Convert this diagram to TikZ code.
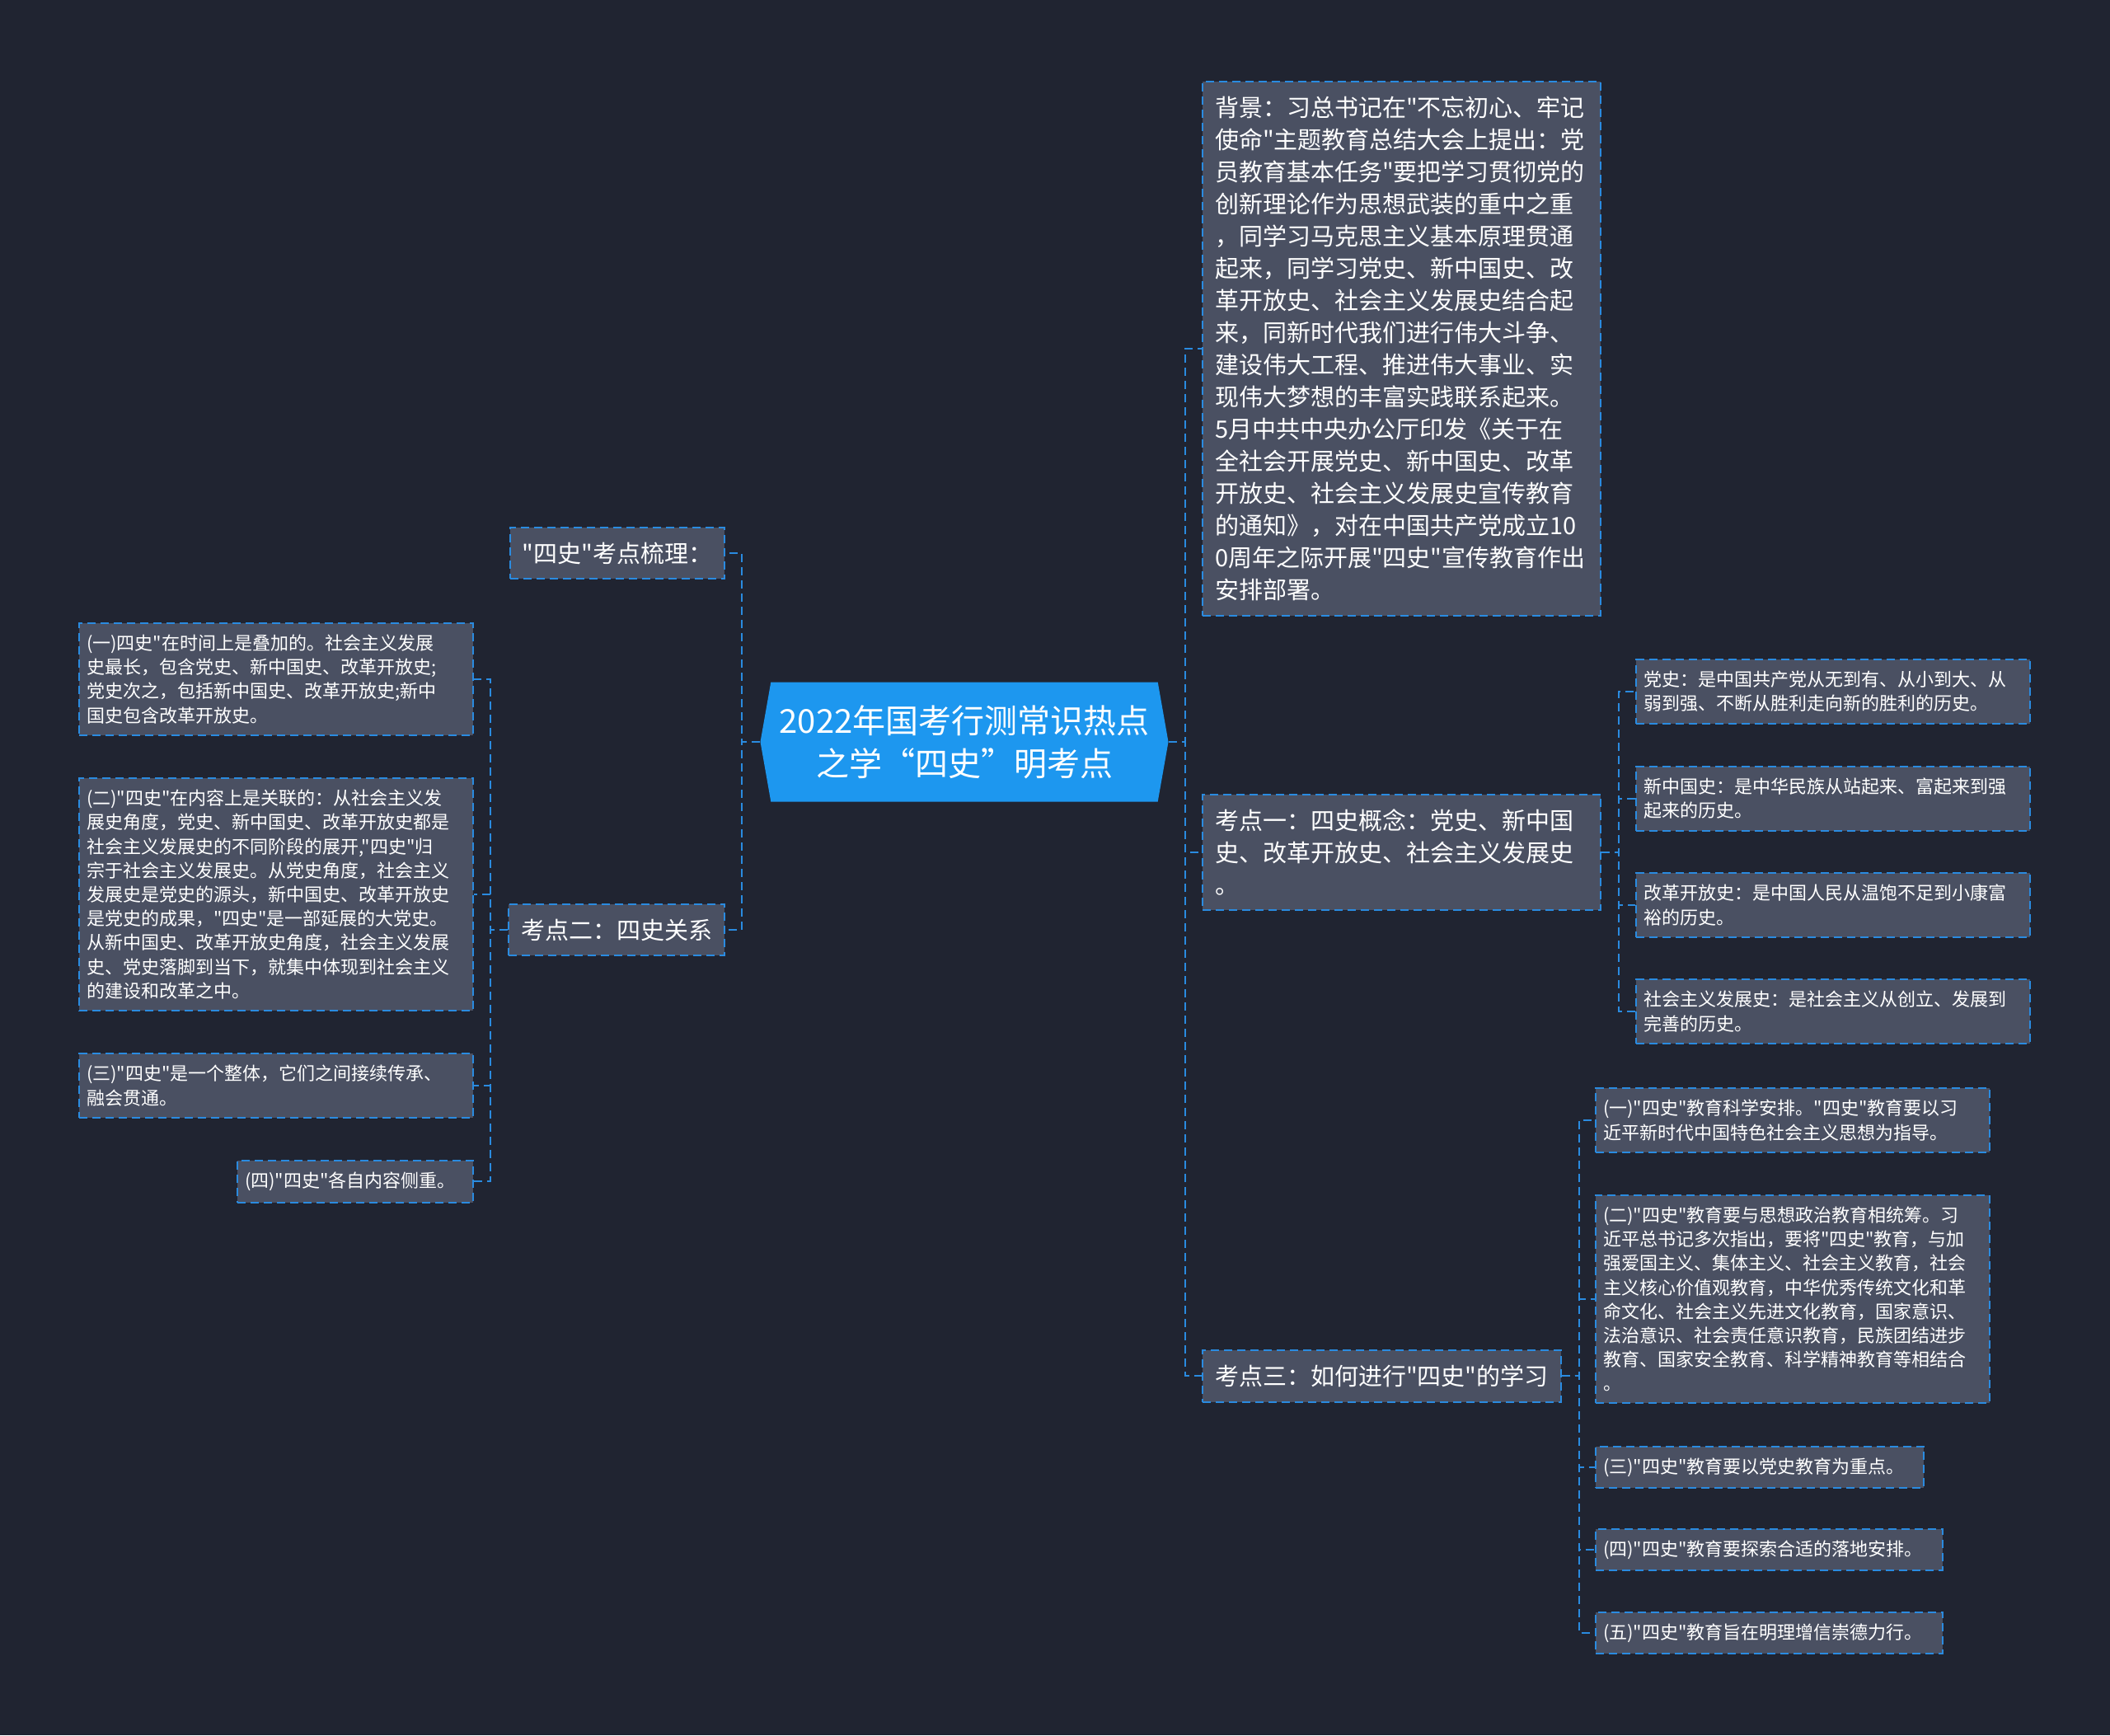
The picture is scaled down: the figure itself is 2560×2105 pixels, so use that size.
\documentclass[tikz,border=0pt]{standalone}
\usepackage{fontspec}
\setmainfont{Noto Sans CJK SC}[Ligatures=TeXOff]
\usetikzlibrary{shapes.symbols}
\definecolor{bgdark}{HTML}{202431}
\definecolor{boxgray}{HTML}{4A5062}
\definecolor{linkblue}{HTML}{2A8BE0}
\definecolor{rootblue}{HTML}{1D97EF}
\newcommand{\rootfont}{\fontsize{20}{26}\selectfont}
\newcommand{\topicfont}{\fontsize{14.5}{19.5}\selectfont}
\newcommand{\leaffont}{\fontsize{11}{14.6}\selectfont}

\begin{document}
\begin{tikzpicture}[x=0.5pt,y=-0.5pt]
  \path[use as bounding box,fill=bgdark] (0,0) rectangle (2560,2105);
  \tikzset{
    rootbox/.style={signal,signal to=east and west,signal pointer angle=160,fill=rootblue,text=white,align=center,font=\rootfont,minimum width=247.5pt,minimum height=72.5pt,inner sep=0pt},
    topic/.style={draw=linkblue,fill=boxgray,line width=1pt,dash pattern=on 5pt off 3pt,text=white,align=left,font=\topicfont,inner xsep=7.5pt,inner ysep=9pt},
    leaf/.style={draw=linkblue,fill=boxgray,line width=1pt,dash pattern=on 5pt off 3pt,text=white,align=left,font=\leaffont,inner xsep=4.5pt,inner ysep=7pt},
    link/.style={draw=linkblue,line width=1pt,dash pattern=on 5pt off 3pt}
  }
  \node[rootbox] (root) at (1170,900) {2022年国考行测常识热点\\之学“四史”明考点};

  \node[topic,anchor=west,text width=226.5pt] (bg) at (1458,423) {背景：习总书记在"不忘初心、牢记\\使命"主题教育总结大会上提出：党\\员教育基本任务"要把学习贯彻党的\\创新理论作为思想武装的重中之重\\，同学习马克思主义基本原理贯通\\起来，同学习党史、新中国史、改\\革开放史、社会主义发展史结合起\\来，同新时代我们进行伟大斗争、\\建设伟大工程、推进伟大事业、实\\现伟大梦想的丰富实践联系起来。\\5月中共中央办公厅印发《关于在\\全社会开展党史、新中国史、改革\\开放史、社会主义发展史宣传教育\\的通知》，对在中国共产党成立10\\0周年之际开展"四史"宣传教育作出\\安排部署。};
  \node[topic,anchor=west,text width=226.5pt] (kd1) at (1458,1034) {考点一：四史概念：党史、新中国\\史、改革开放史、社会主义发展史\\。};
  \node[topic,anchor=west] (kd3) at (1458,1669) {考点三：如何进行"四史"的学习};
  \node[topic,anchor=east] (sort) at (880,671) {"四史"考点梳理：};
  \node[topic,anchor=east] (kd2) at (880,1128) {考点二：四史关系};

  \node[leaf,anchor=west,text width=230pt] (dangshi) at (1984,839) {党史：是中国共产党从无到有、从小到大、从\\弱到强、不断从胜利走向新的胜利的历史。};
  \node[leaf,anchor=west,text width=230pt] (xinzg) at (1984,969) {新中国史：是中华民族从站起来、富起来到强\\起来的历史。};
  \node[leaf,anchor=west,text width=230pt] (gaige) at (1984,1098) {改革开放史：是中国人民从温饱不足到小康富\\裕的历史。};
  \node[leaf,anchor=west,text width=230pt] (shzy) at (1984,1227) {社会主义发展史：是社会主义从创立、发展到\\完善的历史。};

  \node[leaf,anchor=west,text width=230pt] (xx1) at (1935,1359) {(一)"四史"教育科学安排。"四史"教育要以习\\近平新时代中国特色社会主义思想为指导。};
  \node[leaf,anchor=west,text width=230pt] (xx2) at (1935,1576) {(二)"四史"教育要与思想政治教育相统筹。习\\近平总书记多次指出，要将"四史"教育，与加\\强爱国主义、集体主义、社会主义教育，社会\\主义核心价值观教育，中华优秀传统文化和革\\命文化、社会主义先进文化教育，国家意识、\\法治意识、社会责任意识教育，民族团结进步\\教育、国家安全教育、科学精神教育等相结合\\。};
  \node[leaf,anchor=west,text width=190pt] (xx3) at (1935,1780) {(三)"四史"教育要以党史教育为重点。};
  \node[leaf,anchor=west,text width=201.5pt] (xx4) at (1935,1880) {(四)"四史"教育要探索合适的落地安排。};
  \node[leaf,anchor=west,text width=201.5pt] (xx5) at (1935,1981) {(五)"四史"教育旨在明理增信崇德力行。};

  \node[leaf,anchor=east,text width=230pt] (gx1) at (575,824) {(一)四史"在时间上是叠加的。社会主义发展\\史最长，包含党史、新中国史、改革开放史;\\党史次之，包括新中国史、改革开放史;新中\\国史包含改革开放史。};
  \node[leaf,anchor=east,text width=230pt] (gx2) at (575,1085) {(二)"四史"在内容上是关联的：从社会主义发\\展史角度，党史、新中国史、改革开放史都是\\社会主义发展史的不同阶段的展开,"四史"归\\宗于社会主义发展史。从党史角度，社会主义\\发展史是党史的源头，新中国史、改革开放史\\是党史的成果，"四史"是一部延展的大党史。\\从新中国史、改革开放史角度，社会主义发展\\史、党史落脚到当下，就集中体现到社会主义\\的建设和改革之中。};
  \node[leaf,anchor=east,text width=230pt] (gx3) at (575,1317) {(三)"四史"是一个整体，它们之间接续传承、\\融会贯通。};
  \node[leaf,anchor=east,text width=134pt] (gx4) at (575,1433) {(四)"四史"各自内容侧重。};

  \foreach \t in {bg,kd1,kd3}
    \draw[link] (root.east) -- ++(20,0) |- (\t.west);
  \foreach \t in {sort,kd2}
    \draw[link] (root.west) -- ++(-22,0) |- (\t.east);
  \foreach \t in {dangshi,xinzg,gaige,shzy}
    \draw[link] (kd1.east) -- ++(21,0) |- (\t.west);
  \foreach \t in {xx1,xx2,xx3,xx4,xx5}
    \draw[link] (kd3.east) -- ++(21,0) |- (\t.west);
  \foreach \t in {gx1,gx2,gx3,gx4}
    \draw[link] (kd2.west) -- ++(-21,0) |- (\t.east);
\end{tikzpicture}
\end{document}
